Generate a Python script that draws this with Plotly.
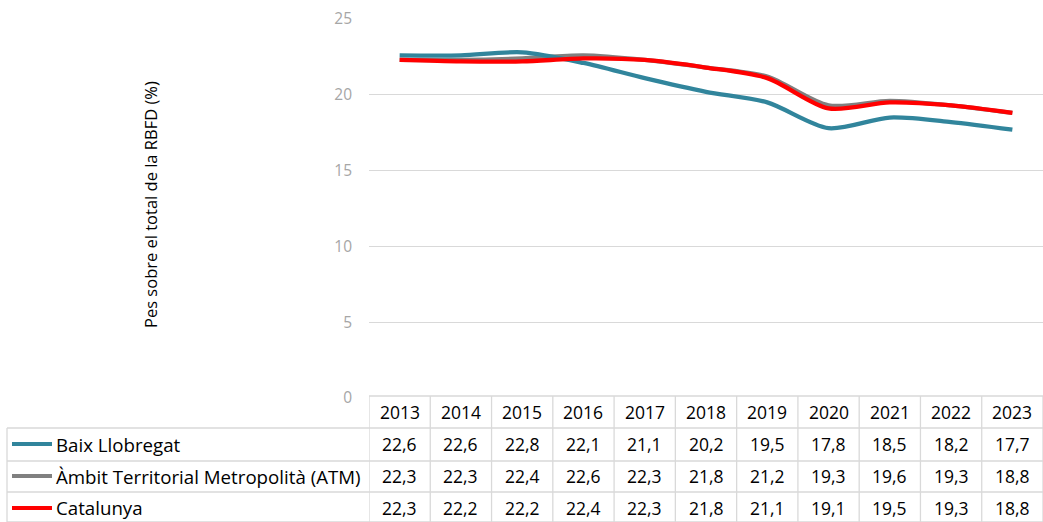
import plotly.graph_objects as go

YEARS = ["2013", "2014", "2015", "2016", "2017", "2018", "2019", "2020", "2021", "2022", "2023"]
SERIES_NAMES = ["Baix Llobregat", "Àmbit Territorial Metropolità (ATM)", "Catalunya"]
BAIX = [22.6, 22.6, 22.8, 22.1, 21.1, 20.2, 19.5, 17.8, 18.5, 18.2, 17.7]
ATM = [22.3, 22.3, 22.4, 22.6, 22.3, 21.8, 21.2, 19.3, 19.6, 19.3, 18.8]
CATALUNYA = [22.3, 22.2, 22.2, 22.4, 22.3, 21.8, 21.1, 19.1, 19.5, 19.3, 18.8]
Y_TICKS = [0, 5, 10, 15, 20, 25]
COLORS = ["#31859C", "#808080", "#FF0000"]

W, H = 1043, 522
M_L, M_R, M_T, M_B = 369, 0, 19, 124
PW, PH = W - M_L - M_R, H - M_T - M_B
FONT = "Open Sans"
GRID = "#D9D9D9"


def px_x(x):
    return (x - M_L) / PW


def px_y(y):
    return (H - M_B - y) / PH


fig = go.Figure()
# ATM first so teal and red are drawn above it
for name, vals, col in [(SERIES_NAMES[1], ATM, COLORS[1]),
                        (SERIES_NAMES[0], BAIX, COLORS[0]),
                        (SERIES_NAMES[2], CATALUNYA, COLORS[2])]:
    fig.add_trace(go.Scatter(
        x=YEARS, y=vals, name=name, mode="lines",
        line=dict(color=col, width=4.3, shape="spline", smoothing=0.8),
        showlegend=False,
    ))

shapes = []
annotations = []
line_style = dict(color=GRID, width=1.3)

# table grid
row_edges = [396, 428, 461, 492, 522]
for i, y in enumerate(row_edges):
    x0 = M_L if i == 0 else 7
    shapes.append(dict(type="line", xref="paper", yref="paper",
                       x0=px_x(x0), x1=px_x(W), y0=px_y(y), y1=px_y(y), line=line_style))
shapes.append(dict(type="line", xref="paper", yref="paper",
                   x0=px_x(7), x1=px_x(7), y0=px_y(428), y1=px_y(522), line=line_style))
for k in range(len(YEARS) + 1):
    shapes.append(dict(type="line", xref="x", yref="paper",
                       x0=k - 0.5, x1=k - 0.5, y0=px_y(396), y1=px_y(522), line=line_style))

table_font = dict(family=FONT, size=17.5, color="#000000")
row_centers = [444, 476, 508]
for i, year in enumerate(YEARS):
    annotations.append(dict(x=i, xref="x", y=px_y(412), yref="paper", text=year,
                            showarrow=False, xanchor="center", yanchor="middle",
                            font=table_font))
for r, vals in enumerate([BAIX, ATM, CATALUNYA]):
    yc = px_y(row_centers[r])
    for i, v in enumerate(vals):
        annotations.append(dict(x=i, xref="x", y=yc, yref="paper",
                                text=f"{v:.1f}".replace(".", ","),
                                showarrow=False, xanchor="center", yanchor="middle",
                                font=table_font))
    shapes.append(dict(type="line", xref="paper", yref="paper",
                       x0=px_x(12), x1=px_x(52), y0=yc, y1=yc,
                       line=dict(color=COLORS[r], width=4)))
    annotations.append(dict(x=px_x(54), xref="paper", y=yc, yref="paper",
                            text=SERIES_NAMES[r], showarrow=False,
                            xanchor="left", yanchor="middle",
                            font=dict(family=FONT, size=18.7, color="#000000")))

# y axis title
annotations.append(dict(x=px_x(150), xref="paper", y=px_y(205), yref="paper",
                        text="Pes sobre el total de la RBFD (%)", textangle=-90,
                        showarrow=False, xanchor="center", yanchor="middle",
                        font=dict(family=FONT, size=16.5, color="#000000")))

fig.update_layout(
    width=W, height=H,
    margin=dict(l=M_L, r=M_R, t=M_T, b=M_B),
    paper_bgcolor="white", plot_bgcolor="white",
    xaxis=dict(type="category", range=[-0.5, len(YEARS) - 0.5],
               showticklabels=False, showgrid=False, zeroline=False, showline=False),
    yaxis=dict(range=[0, 25], tickvals=Y_TICKS, showgrid=True, gridcolor=GRID,
               gridwidth=1.3, zeroline=False, showline=False, ticklabelstandoff=16,
               tickfont=dict(family=FONT, size=15.5, color="#A6A6A6")),
    shapes=shapes,
    annotations=annotations,
    hovermode="x",
)

fig.write_html("out.html", config={"displayModeBar": False},
               post_script="document.body.style.margin='0';")
